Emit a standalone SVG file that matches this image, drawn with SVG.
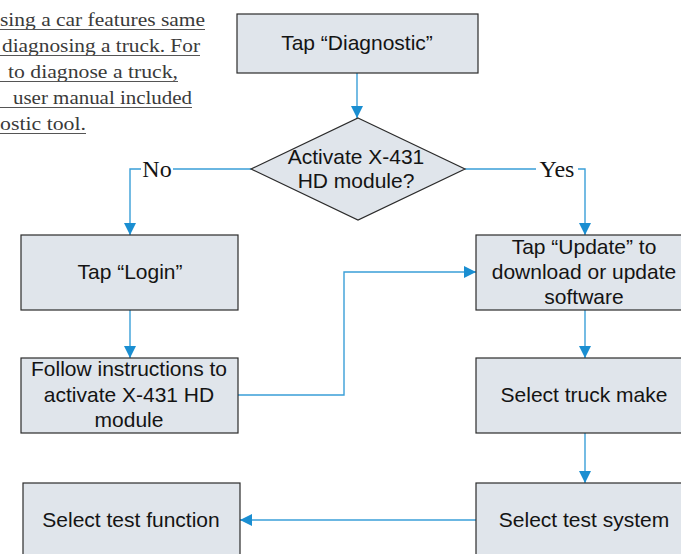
<svg xmlns="http://www.w3.org/2000/svg" width="681" height="554" viewBox="0 0 681 554">
<style>
.box{fill:#e0e5eb;stroke:#2b2b2b;stroke-width:1.2}
.lbl{font-family:"Liberation Sans",Arial,sans-serif;font-size:21px;fill:#141414;text-anchor:middle}
.yn{font-family:"Liberation Serif","Times New Roman",serif;font-size:24px;fill:#141414;text-anchor:middle}
.note{font-family:"Liberation Serif","Times New Roman",serif;font-size:19.5px;fill:#3a3a3a}
.ul{stroke:#555;stroke-width:1}
.con{fill:none;stroke:#3a9fd8;stroke-width:1.4}
</style>
<defs>
<marker id="arr" markerUnits="userSpaceOnUse" markerWidth="12" markerHeight="12" refX="12" refY="6" orient="auto">
<path d="M0,0 L12,6 L0,12 z" fill="#1a8ed1"/>
</marker>
</defs>
<rect width="681" height="554" fill="#fff"/>
<g id="note">
<text class="note" x="205" y="26" text-anchor="end" textLength="205" lengthAdjust="spacingAndGlyphs">sing a car features same</text>
<text class="note" x="200" y="52" text-anchor="end" textLength="198" lengthAdjust="spacingAndGlyphs">diagnosing a truck. For</text>
<text class="note" x="178" y="78" text-anchor="end" textLength="170" lengthAdjust="spacingAndGlyphs">to diagnose a truck,</text>
<text class="note" x="192" y="104" text-anchor="end" textLength="179" lengthAdjust="spacingAndGlyphs">user manual included</text>
<text class="note" x="86" y="130" text-anchor="end" textLength="86" lengthAdjust="spacingAndGlyphs">ostic tool.</text>
<line class="ul" x1="0" y1="29.5" x2="205" y2="29.5"/>
<line class="ul" x1="0" y1="55.5" x2="200" y2="55.5"/>
<line class="ul" x1="0" y1="81.5" x2="178" y2="81.5"/>
<line class="ul" x1="0" y1="107.5" x2="192" y2="107.5"/>
<line class="ul" x1="0" y1="133.5" x2="86" y2="133.5"/>
</g>
<g id="connectors">
<line class="con" x1="357" y1="73" x2="357" y2="118" marker-end="url(#arr)"/>
<polyline class="con" points="251,169 130,169 130,235" marker-end="url(#arr)"/>
<polyline class="con" points="465,169 585,169 585,235" marker-end="url(#arr)"/>
<line class="con" x1="130" y1="310" x2="130" y2="358" marker-end="url(#arr)"/>
<polyline class="con" points="238,395 344,395 344,272 476,272" marker-end="url(#arr)"/>
<line class="con" x1="585" y1="310" x2="585" y2="358" marker-end="url(#arr)"/>
<line class="con" x1="585" y1="433" x2="585" y2="483" marker-end="url(#arr)"/>
<line class="con" x1="476" y1="520" x2="240" y2="520" marker-end="url(#arr)"/>
<rect x="141" y="158" width="32" height="22" fill="#fff"/>
<rect x="536" y="158" width="42" height="22" fill="#fff"/>
<text class="yn" x="157" y="177">No</text>
<text class="yn" x="557" y="177">Yes</text>
</g>
<g id="diagnostic">
<rect class="box" x="237" y="14" width="241" height="59"/>
<text class="lbl" x="357" y="50">Tap “Diagnostic”</text>
</g>
<g id="activate">
<polygon class="box" points="358,118 465,169 358,220 251,169"/>
<text class="lbl" x="356" y="164">Activate X-431</text>
<text class="lbl" x="356" y="188">HD module?</text>
</g>
<g id="login">
<rect class="box" x="21" y="235" width="217" height="75"/>
<text class="lbl" x="130" y="279">Tap “Login”</text>
</g>
<g id="follow">
<rect class="box" x="21" y="358" width="217" height="75"/>
<text class="lbl" x="129" y="376">Follow instructions to</text>
<text class="lbl" x="129" y="402">activate X-431 HD</text>
<text class="lbl" x="129" y="427">module</text>
</g>
<g id="update">
<rect class="box" x="476" y="235" width="218" height="75"/>
<text class="lbl" x="584" y="254">Tap “Update” to</text>
<text class="lbl" x="584" y="279">download or update</text>
<text class="lbl" x="584" y="304">software</text>
</g>
<g id="truckmake">
<rect class="box" x="476" y="358" width="218" height="75"/>
<text class="lbl" x="584" y="402">Select truck make</text>
</g>
<g id="testsystem">
<rect class="box" x="476" y="483" width="218" height="80"/>
<text class="lbl" x="584" y="527">Select test system</text>
</g>
<g id="testfunction">
<rect class="box" x="23" y="483" width="217" height="80"/>
<text class="lbl" x="131" y="527">Select test function</text>
</g>
</svg>
